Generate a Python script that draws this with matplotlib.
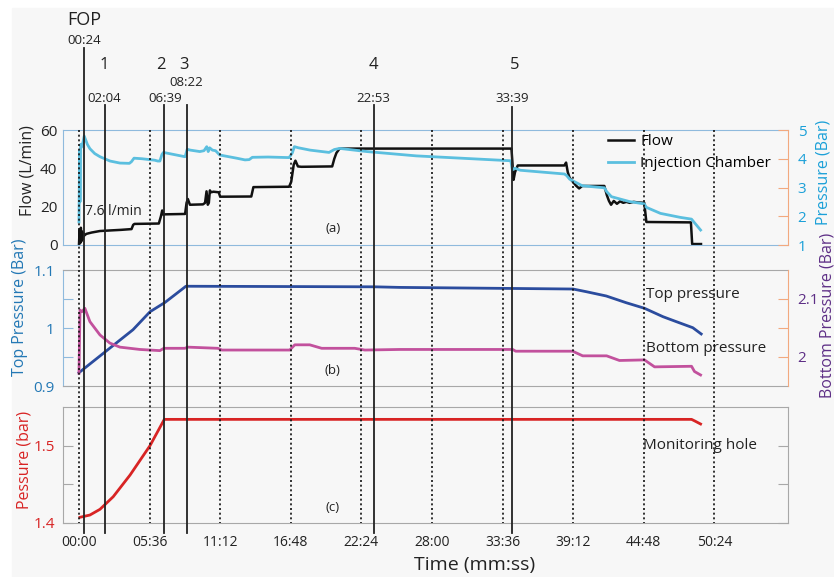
import matplotlib
matplotlib.use('Agg')
import matplotlib.pyplot as plt
from matplotlib.patches import Rectangle
from matplotlib.lines import Line2D
import matplotlib.transforms as mtransforms

plt.rcParams['font.family'] = ['Open Sans', 'DejaVu Sans']

# ---------------- data (time in seconds) ----------------
flow_t = [0, 3, 6, 9, 12, 15, 18, 22, 26, 35, 60, 100, 150, 200, 250, 258, 264, 380, 390, 396,
          402, 410, 505, 512, 518, 528, 590, 600, 607, 613, 618, 623, 628, 640, 665, 672, 820,
          830, 1000, 1010, 1022, 1030, 1042, 1058, 1205, 1215, 1225, 1240, 2058, 2062, 2068,
          2075, 2088, 2310, 2318, 2326, 2335, 2350, 2365, 2380, 2395, 2500, 2512, 2522, 2532,
          2545, 2560, 2575, 2590, 2605, 2620, 2640, 2660, 2690, 2700, 2912, 2918, 2960]
flow_v = [0, 8, 1, 9, 2, 7, 3, 6, 5, 5.8, 6.5, 7.3, 7.6, 7.9, 8.3, 10.5, 11, 11.2, 15, 18,
          15.8, 16, 16.2, 22, 24, 21, 21.2, 22, 28, 21, 22, 28.5, 27.5, 27.8, 27.5, 25.2, 25.3,
          30.2, 30.4, 33, 42, 44, 41, 40.8, 41, 45, 48, 50.3, 50.3, 44, 34,
          38, 41.5, 41.5, 43, 38, 35, 33, 31, 29.5, 30.8, 30.8, 26, 23, 21,
          23, 21.5, 22.8, 22, 22.5, 22, 22.5, 22.2, 22, 12, 11.8, 0.5, 0.5]

inj_t = [0, 3, 5, 8, 12, 20, 25, 40, 52, 75, 100, 148, 195, 240, 250, 262, 300, 360, 375, 385,
         395, 402, 450, 505, 515, 530, 575, 595, 608, 615, 622, 635, 650, 670, 750, 790, 810,
         825, 900, 1000, 1015, 1025, 1045, 1100, 1190, 1215, 1240, 1370, 1605, 2055, 2062,
         2075, 2100, 2310, 2320, 2335, 2395, 2500, 2512, 2534, 2620, 2690, 2700, 2767, 2862,
         2915, 2925, 2958]
inj_v = [1.8, 4.3, 2.5, 4.5, 4.4, 4.6, 4.79, 4.5, 4.35, 4.18, 4.07, 3.92, 3.85, 3.84, 3.9, 4.02,
         4.0, 3.95, 3.92, 3.92, 4.15, 4.22, 4.15, 4.07, 4.33, 4.3, 4.25, 4.28, 4.42, 4.25, 4.38,
         4.3, 4.28, 4.13, 4.02, 3.96, 3.97, 4.05, 4.06, 4.04, 4.2, 4.42, 4.38, 4.30, 4.22, 4.32,
         4.36, 4.25, 4.10, 3.93, 3.61, 3.67, 3.6, 3.47, 3.42, 3.29, 3.06, 2.99, 2.85, 2.68,
         2.51, 2.43, 2.31, 2.10, 1.96, 1.9, 1.81, 1.52]

top_t = [0, 257, 338, 409, 509, 1407, 1526, 2351, 2414, 2509, 2604, 2691, 2779, 2842, 2921, 2961]
top_v = [0.923, 0.997, 1.028, 1.044, 1.072, 1.071, 1.070, 1.0672, 1.0626, 1.0552, 1.0436,
         1.034, 1.0195, 1.011, 1.0005, 0.9897]

bot_t = [0, 5, 14, 28, 52, 100, 147, 195, 290, 385, 404, 504, 518, 661, 680, 1003, 1027, 1098,
         1155, 1312, 1360, 1526, 2064, 2078, 2349, 2397, 2511, 2572, 2691, 2739, 2915, 2929, 2958]
bot_v = [1.972, 2.081, 2.078, 2.084, 2.061, 2.038, 2.024, 2.017, 2.013, 2.011, 2.015, 2.015,
         2.017, 2.015, 2.012, 2.012, 2.021, 2.021, 2.015, 2.015, 2.012, 2.013, 2.013, 2.010,
         2.010, 2.002, 2.002, 1.994, 1.995, 1.983, 1.984, 1.975, 1.969]

hole_t = [5, 52, 100, 163, 243, 338, 406, 1000, 2000, 2915, 2930, 2958]
hole_v = [1.4074, 1.4103, 1.4177, 1.434, 1.462, 1.500, 1.534, 1.534, 1.534, 1.534, 1.532, 1.528]

event_names = ['FOP', '1', '2', '3', '4', '5']
event_labels = ['00:24', '02:04', '06:39', '08:22', '22:53', '33:39']
event_pos = [26, 122, 404, 512, 1402, 2061]

time_ticks = [0, 336, 672, 1008, 1344, 1680, 2016, 2352, 2688, 3024]

# ---------------- layout helpers ----------------
W, H = 834, 577
def fx(x): return x / W
def fy(y): return 1 - y / H

fig = plt.figure(figsize=(W / 100, H / 100), dpi=100, facecolor='white')
fig.patches.append(Rectangle((fx(12), 0), 1, fy(8), transform=fig.transFigure,
                             color='#f7f7f7', zorder=-10))

L, R = 63, 788
def add_ax(top, bottom):
    a = fig.add_axes([fx(L), fy(bottom), fx(R) - fx(L), fy(top) - fy(bottom)])
    a.set_facecolor('none')
    return a

ax_a = add_ax(130, 245)
ax_b = add_ax(270, 386)
ax_c = add_ax(407, 523)
ax_a2 = ax_a.twinx()
ax_b2 = ax_b.twinx()

XMIN, XMAX = -76, 3374
for a in (ax_a, ax_b, ax_c, ax_a2, ax_b2):
    a.set_xlim(XMIN, XMAX)
    a.set_facecolor('none')

GRAY = '#a8a8a8'
LBLUE = '#8fbadd'
ORANGE = '#f2a97f'
CYAN = '#5bbfdf'
CYAN_T = '#1ba0d8'
DBLUE = '#2b4c9e'
MAG = '#c2519d'
PURPLE = '#5e2f86'
BLUE_T = '#2378b5'
RED = '#d82424'

# ---- panel a ----
ax_a.plot(flow_t, flow_v, color='#111111', lw=1.8, label='Flow')
ax_a2.plot(inj_t, inj_v, color=CYAN, lw=2.0, label='Injection Chamber')
ax_a.set_ylim(0, 60)
ax_a.set_yticks([0, 20, 40, 60])
ax_a.tick_params(axis='y', length=0, pad=4, labelsize=11, labelcolor='#222222')
ax_a2.set_ylim(1, 5)
ax_a2.set_yticks([1, 2, 3, 4, 5])
ax_a2.tick_params(axis='y', direction='in', length=7, color=ORANGE, pad=7,
                  labelsize=11, labelcolor=CYAN_T)
for s in ('left', 'top', 'bottom'):
    ax_a.spines[s].set_color(LBLUE)
ax_a.spines['right'].set_visible(False)
for s in ('left', 'top', 'bottom'):
    ax_a2.spines[s].set_visible(False)
ax_a2.spines['right'].set_color(ORANGE)

# ---- panel b ----
ax_b.plot(top_t, top_v, color=DBLUE, lw=2.0)
ax_b2.plot(bot_t, bot_v, color=MAG, lw=2.0)
ax_b.set_ylim(0.9, 1.1)
ax_b.set_yticks([0.9, 0.95, 1.0, 1.05, 1.1])
ax_b.set_yticklabels(['0.9', '', '1', '', '1.1'])
ax_b.tick_params(axis='y', direction='in', length=7, color=LBLUE, pad=6,
                 labelsize=11, labelcolor=BLUE_T)
ax_b2.set_ylim(1.95, 2.15)
ax_b2.set_yticks([2.0, 2.05, 2.1])
ax_b2.set_yticklabels(['2', '', '2.1'])
ax_b2.tick_params(axis='y', direction='in', length=7, color=ORANGE, pad=7,
                  labelsize=11, labelcolor=PURPLE)
ax_b.spines['left'].set_color(LBLUE)
for s in ('top', 'bottom'):
    ax_b.spines[s].set_color(GRAY)
ax_b.spines['right'].set_visible(False)
for s in ('left', 'top', 'bottom'):
    ax_b2.spines[s].set_visible(False)
ax_b2.spines['right'].set_color(ORANGE)

# ---- panel c ----
ax_c.plot(hole_t, hole_v, color=RED, lw=2.0)
ax_c.set_ylim(1.4, 1.55)
ax_c.set_yticks([1.4, 1.45, 1.5])
ax_c.set_yticklabels(['1.4', '', '1.5'])
ax_c.tick_params(axis='y', direction='in', length=7, color=GRAY, pad=6,
                 labelsize=11, labelcolor=RED, right=True)
for s in ax_c.spines.values():
    s.set_color(GRAY)

for a in (ax_a, ax_b):
    a.set_xticks([])
def mmss(s):
    return '%02d:%02d' % (s // 60, s % 60)
ax_c.set_xticks(time_ticks)
ax_c.set_xticklabels([mmss(t) for t in time_ticks])
ax_c.tick_params(axis='x', length=0, pad=9, labelsize=10, labelcolor='#222222')

# ---- vertical dotted grid lines and event lines ----
blend = mtransforms.blended_transform_factory(ax_c.transData, fig.transFigure)
for t in time_ticks:
    fig.add_artist(Line2D([t, t], [fy(130), fy(523)], transform=blend, color='#111111',
                          lw=1.2, linestyle=(0, (1.2, 1.6)), zorder=5))

ev_tops = [48, 105, 105, 105, 105, 107]
name_x = [26, 122, 390, 500, 1402, 2075]
name_y = [20, 65, 65, 65, 65, 65]
lab_y = [40, 98, 98, 82, 98, 98]
lab_x = [26, 122, 410, 512, 1402, 2061]
for i, t in enumerate(event_pos):
    fig.add_artist(Line2D([t, t], [fy(ev_tops[i]), fy(533)], transform=blend,
                          color='#222222', lw=1.3, zorder=6))
    fig.text(name_x[i], fy(name_y[i]), event_names[i], transform=blend, ha='center',
             va='center', fontsize=13 if i == 0 else 12, color='#222222')
    fig.text(lab_x[i], fy(lab_y[i]), event_labels[i], transform=blend, ha='center',
             va='center', fontsize=9.5, color='#222222')

# ---- annotations ----
ax_a.text(30, 17.5, '7.6 l/min', fontsize=10, color='#222222', va='center', ha='left')
ax_a.text(1208, 8.7, '(a)', fontsize=9.5, color='#222222', va='center', ha='center')
ax_b.text(1208, 0.927, '(b)', fontsize=9.5, color='#222222', va='center', ha='center')
ax_c.text(1208, 1.42, '(c)', fontsize=9.5, color='#222222', va='center', ha='center')
ax_b.text(2700, 1.058, 'Top pressure', fontsize=11, color='#222222', va='center')
ax_b.text(2700, 0.965, 'Bottom pressure', fontsize=11, color='#222222', va='center')
ax_c.text(2685, 1.5, 'Monitoring hole', fontsize=11, color='#222222', va='center')

h1, l1 = ax_a.get_legend_handles_labels()
h2, l2 = ax_a2.get_legend_handles_labels()
leg = ax_a2.legend(h1 + h2, l1 + l2, loc='upper left',
                   bbox_to_anchor=(fx(608), fy(134)), bbox_transform=fig.transFigure,
                   frameon=False, fontsize=11, handlelength=1.7, handletextpad=0.4,
                   labelspacing=0.45, borderpad=0, borderaxespad=0)

# ---- axis labels ----
fig.text(fx(28), fy(171), 'Flow (L/min)', rotation=90, ha='center', va='center',
         fontsize=11.5, color='#222222')
fig.text(fx(823), fy(172), 'Pressure (Bar)', rotation=90, ha='center', va='center',
         fontsize=11.5, color=CYAN_T)
fig.text(fx(20), fy(307), 'Top Pressure (Bar)', rotation=90, ha='center', va='center',
         fontsize=11.5, color=BLUE_T)
fig.text(fx(827), fy(315), 'Bottom Pressure (Bar)', rotation=90, ha='center', va='center',
         fontsize=11.5, color=PURPLE)
fig.text(fx(25), fy(460), 'Pessure (bar)', rotation=90, ha='center', va='center',
         fontsize=11.5, color=RED)
fig.text(fx(475), fy(565), 'Time (mm:ss)', ha='center', va='center', fontsize=14,
         color='#222222')

fig.savefig('out.png', dpi=100)
